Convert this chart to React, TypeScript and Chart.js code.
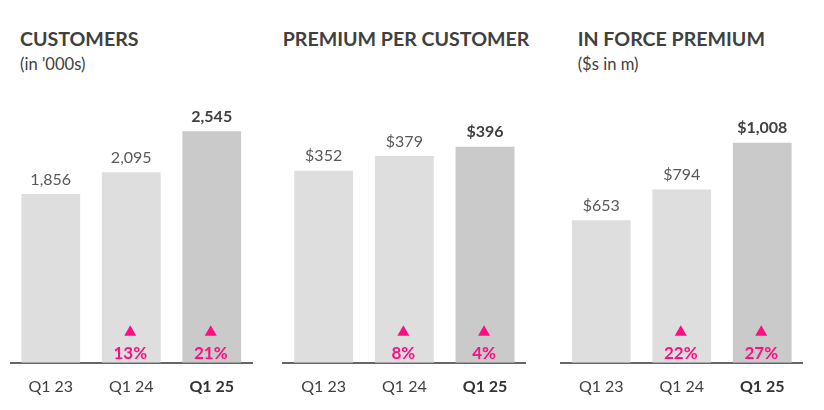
import React, { useEffect, useRef } from "react";
import { Chart, registerables } from "chart.js";

Chart.register(...registerables);

const categories = ["Q1 23", "Q1 24", "Q1 25"];
const customers = [1856, 2095, 2545];
const customersGrowth = [null, 13, 21];
const premiumPerCustomer = [352, 379, 396];
const premiumGrowth = [null, 8, 4];
const inForcePremium = [653, 794, 1008];
const inForceGrowth = [null, 22, 27];

const FONT = "Lato, 'Noto Sans', sans-serif";
const LIGHT = "#dedede";
const DARK = "#cacaca";
const PINK = "#fa0f84";
const TEXT = "#404040";
const VALUE = "#595959";

type PanelProps = {
  left: number;
  padLeft: number;
  padRight: number;
  titleLeft: number;
  title: string;
  subtitle?: string;
  values: number[];
  growth: (number | null)[];
  max: number;
  prefix: string;
};

const fmt = (v: number, prefix: string) => prefix + v.toLocaleString("en-US");

function Panel({ left, padLeft, padRight, titleLeft, title, subtitle, values, growth, max, prefix }: PanelProps) {
  const ref = useRef<HTMLCanvasElement | null>(null);
  useEffect(() => {
    if (!ref.current) return;
    const labelPlugin = {
      id: "labels",
      afterDatasetsDraw(chart: any) {
        const ctx = chart.ctx;
        const meta = chart.getDatasetMeta(0);
        ctx.save();
        meta.data.forEach((bar: any, i: number) => {
          const last = i === values.length - 1;
          ctx.textAlign = "center";
          ctx.textBaseline = "alphabetic";
          ctx.font = `${last ? "bold " : ""}16px ${FONT}`;
          ctx.fillStyle = last ? TEXT : VALUE;
          ctx.fillText(fmt(values[i], prefix), bar.x, bar.y - 9.5);
          const g = growth[i];
          if (g !== null && g !== undefined) {
            const base = bar.base;
            const cx = bar.x - 1;
            ctx.fillStyle = PINK;
            ctx.beginPath();
            ctx.moveTo(cx, base - 37.5);
            ctx.lineTo(cx + 6, base - 27);
            ctx.lineTo(cx - 6, base - 27);
            ctx.closePath();
            ctx.fill();
            ctx.font = `bold 17px ${FONT}`;
            ctx.fillText(g + "%", cx, base - 4);
          }
        });
        ctx.restore();
      },
    };
    const chart = new Chart(ref.current, {
      type: "bar",
      data: {
        labels: categories,
        datasets: [
          {
            data: values,
            backgroundColor: values.map((_, i) => (i === values.length - 1 ? DARK : LIGHT)),
            borderWidth: 0,
            barPercentage: 0.73,
            categoryPercentage: 1,
          },
        ],
      },
      options: {
        animation: false,
        responsive: false,
        maintainAspectRatio: false,
        layout: { padding: { top: 90, left: padLeft, right: padRight, bottom: 0 } },
        plugins: { legend: { display: false }, tooltip: { enabled: false }, title: { display: false } },
        scales: {
          x: {
            grid: { display: false, drawTicks: false },
            border: { display: true, color: "#666666", width: 2 },
            ticks: {
              padding: 14,
              color: (c: any) => (c.index === 2 ? "#333333" : TEXT),
              font: (c: any) => ({ family: FONT, size: 16, weight: c.index === 2 ? "bold" : "normal" }),
            },
          },
          y: { display: false, min: 0, max },
        },
      },
      plugins: [labelPlugin],
    });
    return () => chart.destroy();
  }, []);
  return (
    <>
      <div
        style={{
          position: "absolute",
          left: titleLeft,
          top: 28.5,
          font: `bold 19.6px/19.6px ${FONT}`,
          color: TEXT,
          whiteSpace: "nowrap",
        }}
      >
        {title}
      </div>
      {subtitle && (
        <div
          style={{
            position: "absolute",
            left: titleLeft,
            top: 56,
            font: `16.6px/16.6px ${FONT}`,
            color: TEXT,
            whiteSpace: "nowrap",
          }}
        >
          {subtitle}
        </div>
      )}
      <canvas ref={ref} width={260} height={410} style={{ position: "absolute", left, top: 0 }} />
    </>
  );
}

export default function App() {
  return (
    <div style={{ position: "absolute", left: 0, top: 0, width: 824, height: 410, background: "#fff", overflow: "hidden" }}>
      <Panel left={0} padLeft={10.5} padRight={8} titleLeft={20} title="CUSTOMERS" subtitle="(in '000s)" values={customers} growth={customersGrowth} max={3000} prefix="" />
      <Panel left={274} padLeft={9.3} padRight={8.6} titleLeft={282.7} title="PREMIUM PER CUSTOMER" values={premiumPerCustomer} growth={premiumGrowth} max={500} prefix="$" />
      <Panel left={550} padLeft={11} padRight={7.5} titleLeft={577.7} title="IN FORCE PREMIUM" subtitle="($s in m)" values={inForcePremium} growth={inForceGrowth} max={1250} prefix="$" />
    </div>
  );
}
